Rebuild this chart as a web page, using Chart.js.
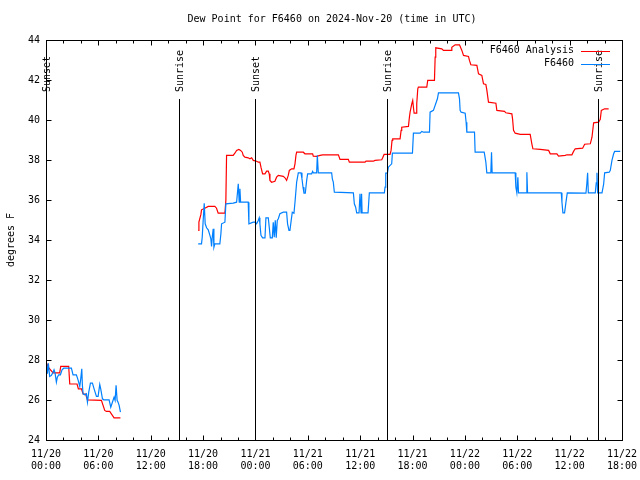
<!DOCTYPE html>
<html><head><meta charset="utf-8">
<script src="https://cdn.jsdelivr.net/npm/chart.js@4"></script>
<style>html,body{margin:0;padding:0;background:#fff}canvas{display:block}</style>
</head><body>
<canvas id="c" width="640" height="480"></canvas>
<script>
// hours since 2024-11-20 00:00 UTC
const analysisHours = [0.04,0.30,0.81,1.57,1.69,2.60,2.72,3.56,3.71,4.06,4.25,4.54,4.75,6.35,6.73,6.92,7.30,7.49,7.80,8.53,
  12.0,
  17.44,17.52,17.75,17.82,18.20,18.59,19.35,19.54,19.73,20.50,20.61,20.69,21.45,21.64,21.84,22.10,22.30,22.49,22.60,22.79,23.17,23.37,23.56,23.75,24.13,24.32,24.51,24.63,24.82,25.09,25.28,25.47,25.58,25.66,25.85,26.23,26.42,26.62,27.19,27.38,27.57,27.76,27.88,28.15,28.41,28.53,28.64,28.72,
  29.48,29.67,30.55,30.63,31.01,31.40,31.70,33.50,33.69,34.64,34.76,36.56,36.67,37.51,37.70,38.47,38.58,38.74,39.42,39.54,39.65,39.73,40.57,40.69,40.76,41.53,41.64,41.72,41.91,42.02,42.10,42.18,42.41,42.48,42.60,42.67,43.63,43.74,44.51,44.59,44.66,45.35,45.54,46.42,46.50,46.88,47.38,47.65,47.84,48.41,48.52,48.68,
  49.37,49.56,49.94,50.13,50.40,50.51,50.70,51.55,51.66,52.54,52.69,53.38,53.46,53.57,53.76,54.34,55.48,55.67,55.79,56.63,57.59,57.78,
  58.54,58.73,59.50,59.69,60.26,60.45,60.64,61.49,61.72,62.37,62.56,62.67,62.75,63.32,63.51,63.63,64.01,64.47];
const analysisValues = [27.86,27.62,27.36,27.36,27.68,27.68,26.80,26.80,26.56,26.56,26.30,26.30,26.01,25.98,25.48,25.43,25.43,25.31,25.11,25.11,
  null,
  34.48,34.89,35.28,35.51,35.59,35.68,35.68,35.59,35.34,35.34,35.98,38.23,38.23,38.34,38.48,38.53,38.48,38.39,38.23,38.14,38.11,38.06,38.11,37.98,37.94,37.89,37.89,37.64,37.31,37.31,37.44,37.44,37.31,36.98,36.89,36.94,37.14,37.23,37.18,37.11,36.98,37.23,37.48,37.56,37.56,37.81,38.23,38.39,
  38.39,38.31,38.31,38.19,38.18,38.23,38.26,38.26,38.03,38.03,37.89,37.89,37.94,37.94,37.98,38.01,38.11,38.28,38.28,38.48,38.98,39.06,39.06,39.48,39.64,39.68,40.14,40.39,40.81,40.98,40.64,40.34,40.34,40.81,41.56,41.64,41.64,41.98,41.98,43.14,43.61,43.56,43.48,43.48,43.64,43.76,43.76,43.48,43.23,43.18,42.98,42.76,
  42.73,42.31,42.23,41.81,41.78,41.51,40.89,40.84,40.48,40.43,40.36,40.31,40.06,39.48,39.34,39.28,39.28,38.81,38.56,38.53,38.48,38.31,
  38.31,38.19,38.23,38.26,38.26,38.43,38.56,38.59,38.79,38.81,39.14,39.56,39.86,39.89,40.03,40.48,40.56,40.56];

const obsHours = [0.04,0.16,0.27,0.42,0.62,0.81,0.92,1.04,1.19,1.30,1.46,1.65,1.84,2.03,2.91,3.10,3.48,3.67,3.87,3.98,4.10,4.17,4.25,4.44,4.63,4.75,4.90,5.09,5.32,5.51,5.78,5.97,6.16,6.27,6.47,6.62,7.23,7.42,7.61,7.80,7.92,8.03,8.15,8.26,8.38,8.53,
  12.0,
  17.44,17.82,17.90,18.01,18.13,18.24,18.40,18.59,18.78,18.89,18.97,19.05,19.16,19.24,19.35,19.92,20.04,20.12,20.50,20.61,21.45,21.84,22.03,22.14,22.22,22.30,23.17,23.25,23.75,23.94,24.13,24.32,24.43,24.51,24.63,24.82,25.09,25.20,25.47,25.58,25.70,25.93,26.04,26.15,26.27,26.38,26.50,26.62,26.80,27.19,27.57,27.68,27.84,27.95,28.07,28.22,28.41,
  28.53,28.72,28.91,29.22,29.33,29.45,29.56,29.71,29.87,29.98,30.44,30.55,30.63,31.01,31.09,31.20,32.73,32.81,32.92,33.04,35.22,35.33,35.48,35.60,35.87,35.98,36.10,36.16,36.22,36.71,36.90,37.05,38.77,
  38.85,38.93,39.12,39.23,39.61,39.69,41.99,42.10,42.87,43.06,43.25,43.94,44.01,44.39,44.85,44.97,47.26,47.38,47.45,47.57,48.03,48.14,48.22,
  49.10,49.17,50.21,50.40,50.51,50.97,51.05,51.12,53.76,53.84,53.95,54.07,54.14,55.02,55.10,55.18,57.39,
  59.04,59.12,59.23,59.42,59.58,59.73,61.87,61.98,62.06,62.14,62.94,63.05,63.13,63.21,63.71,63.90,64.01,64.54,64.66,64.85,65.04,65.16,65.80];
const obsValues = [27.89,27.31,27.84,27.18,27.23,27.39,27.51,27.34,26.89,27.14,27.26,27.26,27.51,27.59,27.59,27.26,27.26,27.01,26.68,27.06,27.56,26.73,26.31,26.26,26.31,25.89,26.39,26.84,26.84,26.56,26.18,26.18,26.78,26.56,26.06,26.01,26.01,25.64,25.89,26.14,25.98,26.73,25.98,25.89,25.73,25.39,
  null,
  33.81,33.81,34.14,34.98,35.84,34.81,34.61,34.51,34.23,34.06,33.68,34.14,34.56,33.64,33.81,33.81,34.31,34.81,34.89,35.81,35.84,35.89,36.81,35.89,36.56,35.89,35.89,34.81,34.89,34.89,34.81,34.98,35.11,34.81,34.23,34.11,34.11,35.11,35.11,34.64,34.11,34.11,34.89,34.14,34.98,34.11,34.98,35.06,35.31,35.39,35.39,34.81,34.48,34.48,34.89,35.39,35.34,
  35.89,36.89,37.36,37.36,37.06,36.64,36.34,36.34,36.98,37.31,37.31,37.43,37.36,37.36,38.23,37.36,37.36,37.06,36.89,36.39,36.36,35.81,35.64,35.36,35.36,36.31,35.36,36.31,35.36,35.36,35.36,36.36,36.36,
  36.64,37.34,37.34,37.64,37.81,38.34,38.34,39.34,39.34,39.43,39.39,39.39,40.39,40.48,41.06,41.36,41.36,41.06,40.48,40.39,40.34,39.89,39.39,
  39.39,38.39,38.39,37.89,37.36,37.36,38.39,37.36,37.36,36.64,36.36,37.14,36.36,36.36,37.39,36.36,36.36,
  36.36,35.89,35.36,35.36,35.89,36.36,36.34,36.86,37.36,36.36,36.36,36.86,37.36,36.36,36.36,36.81,37.36,37.39,37.48,37.98,38.31,38.43,38.43];

const sunEventHours = [0, 15.19, 23.98, 39.12, 63.2];
const sunEventLabels = ['Sunset', 'Sunrise', 'Sunset', 'Sunrise', 'Sunrise'];
const sunLineTop = 41.05;

const xTickHours = [0, 6, 12, 18, 24, 30, 36, 42, 48, 54, 60, 66];
const xTickLabels = [['11/20','00:00'],['11/20','06:00'],['11/20','12:00'],['11/20','18:00'],['11/21','00:00'],['11/21','06:00'],['11/21','12:00'],['11/21','18:00'],['11/22','00:00'],['11/22','06:00'],['11/22','12:00'],['11/22','18:00']];
const xMinorStep = 2;
const yTicks = [24, 26, 28, 30, 32, 34, 36, 38, 40, 42, 44];

const titleText = 'Dew Point for F6460 on 2024-Nov-20 (time in UTC)';
const yAxisTitle = 'degrees F';
const seriesNames = ['F6460 Analysis', 'F6460'];
const seriesColors = ['#ff0000', 'rgb(0,128,255)'];

const FONT = '"DejaVu Sans Mono", "Liberation Mono", monospace';

const toPoints = (hs, vs) => hs.map((h, i) => ({x: h, y: vs[i]}));

const decor = {
  id: 'decor',
  afterDatasetsDraw(chart) {
    const {ctx, chartArea: a, scales: {x, y}} = chart;
    ctx.save();
    ctx.strokeStyle = '#000';
    ctx.lineWidth = 1;
    sunEventHours.forEach((h, i) => {
      const px = Math.round(x.getPixelForValue(h)) + 0.5;
      const top = y.getPixelForValue(sunLineTop);
      ctx.beginPath(); ctx.moveTo(px, a.bottom); ctx.lineTo(px, top); ctx.stroke();
      ctx.save();
      ctx.translate(px + 1, top - 7);
      ctx.rotate(-Math.PI / 2);
      ctx.fillStyle = '#000';
      ctx.font = '10px ' + FONT;
      ctx.textAlign = 'left'; ctx.textBaseline = 'middle';
      ctx.fillText(sunEventLabels[i], 0, 0);
      ctx.restore();
    });
    const L = Math.round(a.left) + 0.5, R = Math.round(a.right) + 0.5, T = Math.round(a.top) + 0.5, B = Math.round(a.bottom) + 0.5;
    ctx.strokeRect(L, T, R - L, B - T);
    ctx.beginPath();
    for (let h = x.min; h <= x.max + 1e-9; h += xMinorStep) {
      const px = Math.round(x.getPixelForValue(h)) + 0.5;
      const len = xTickHours.includes(h) ? 5 : 3;
      ctx.moveTo(px, B); ctx.lineTo(px, B - len);
      ctx.moveTo(px, T); ctx.lineTo(px, T + len);
    }
    yTicks.forEach(v => {
      const py = Math.round(y.getPixelForValue(v)) + 0.5;
      ctx.moveTo(L, py); ctx.lineTo(L + 5, py);
      ctx.moveTo(R, py); ctx.lineTo(R - 5, py);
    });
    ctx.stroke();
    ctx.fillStyle = '#000';
    ctx.font = '10px ' + FONT;
    ctx.textAlign = 'center'; ctx.textBaseline = 'middle';
    ctx.fillText(titleText, 332, 19);
    ctx.save();
    ctx.translate(11, (a.top + a.bottom) / 2);
    ctx.rotate(-Math.PI / 2);
    ctx.textAlign = 'center'; ctx.textBaseline = 'middle';
    ctx.fillText(yAxisTitle, 0, 0);
    ctx.restore();
    seriesNames.forEach((n, i) => {
      const ly = a.top + 10.5 + i * 13;
      ctx.textAlign = 'right'; ctx.textBaseline = 'middle';
      ctx.fillStyle = '#000';
      ctx.fillText(n, a.right - 48, ly);
      ctx.strokeStyle = seriesColors[i];
      ctx.beginPath(); ctx.moveTo(a.right - 41, Math.round(ly) + 0.5); ctx.lineTo(a.right - 12, Math.round(ly) + 0.5); ctx.stroke();
    });
    ctx.restore();
  }
};

new Chart(document.getElementById('c'), {
  type: 'line',
  data: {
    datasets: [
      {label: seriesNames[0], data: toPoints(analysisHours, analysisValues), borderColor: seriesColors[0], borderWidth: 1.2, pointRadius: 0, tension: 0, spanGaps: false, order: 2},
      {label: seriesNames[1], data: toPoints(obsHours, obsValues), borderColor: seriesColors[1], borderWidth: 1.2, pointRadius: 0, tension: 0, spanGaps: false, order: 1}
    ]
  },
  options: {
    responsive: false, animation: false, devicePixelRatio: 1,
    layout: {padding: {top: 40, right: 18, left: 0, bottom: 0}},
    plugins: {legend: {display: false}, title: {display: false}, tooltip: {enabled: false}},
    scales: {
      x: {
        type: 'linear', min: 0, max: 66,
        afterBuildTicks: s => { s.ticks = xTickHours.map(v => ({value: v})); },
        afterFit: s => { s.height = 40; s.paddingLeft = 0; s.paddingRight = 0; },
        ticks: {callback: v => xTickLabels[xTickHours.indexOf(v)], color: '#000', font: {family: FONT, size: 10, lineHeight: 1.2}, maxRotation: 0, autoSkip: false, padding: 8},
        grid: {display: false, drawTicks: false}, border: {display: false}
      },
      y: {
        min: 24, max: 44,
        afterBuildTicks: s => { s.ticks = yTicks.map(v => ({value: v})); },
        afterFit: s => { s.width = 46; s.paddingTop = 0; s.paddingBottom = 0; },
        ticks: {color: '#000', font: {family: FONT, size: 10}, padding: 6},
        grid: {display: false, drawTicks: false}, border: {display: false}
      }
    }
  },
  plugins: [decor]
});
</script>
</body></html>
